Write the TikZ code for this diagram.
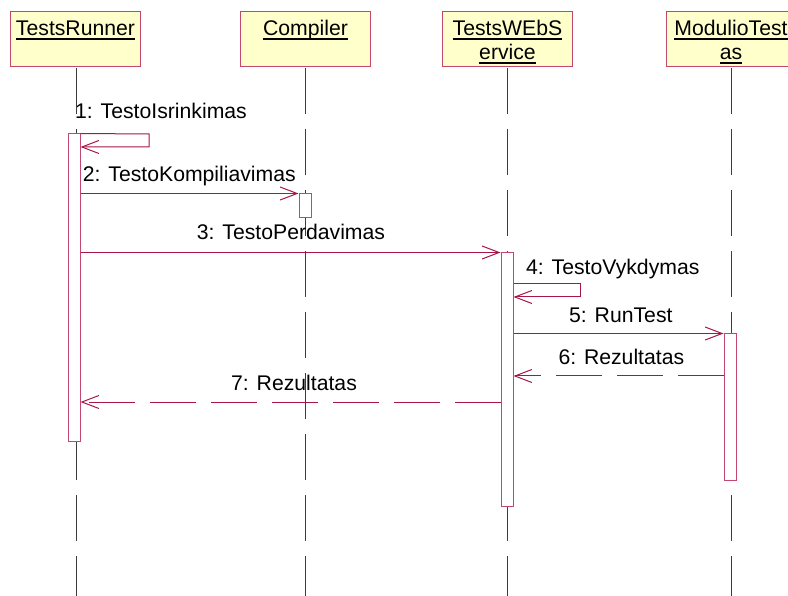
\documentclass[tikz,border=0pt]{standalone}
\usepackage{fontspec}
\setmainfont{Liberation Sans}
\usetikzlibrary{arrows.meta}
\definecolor{headfill}{RGB}{255,255,204}
\definecolor{headline}{RGB}{196,72,110}
\definecolor{msgline}{RGB}{168,22,72}
\definecolor{lifegray}{RGB}{60,60,60}
% underlined object name with a fixed rule below the baseline
\newcommand\ulword[1]{\setbox0\hbox{#1}\rlap{\rule[-3.6pt]{\wd0}{1.4pt}}\box0}
\begin{document}
\begin{tikzpicture}[x=1pt,y=-1pt,font=\fontsize{21.2}{24}\selectfont,
  head/.style={draw=headline,fill=headfill,line width=1pt,minimum width=130pt,minimum height=55pt,inner sep=0pt},
  headtxt/.style={anchor=base,inner sep=0pt},
  act/.style={draw=headline,fill=white,line width=1pt,minimum width=12pt,inner sep=0pt},
  life/.style={draw=lifegray,line width=1pt,dash pattern=on 46pt off 15pt},
  msg/.style={draw=msgline,line width=1pt,-{Straight Barb[length=17pt,width=13pt,line width=1pt]}},
  ret/.style={msg,dash pattern=on 46pt off 15pt},
  lbl/.style={anchor=base west,inner sep=0pt}]
\useasboundingbox (0,0) rectangle (788,596);

% object heads
\node[head] (tr) at (75.5,39.5) {};
\node[head] (co) at (305.5,39.5) {};
\node[head] (ws) at (507.5,39.5) {};
\node[head] (mt) at (731,39.5) {};
\node[headtxt] (trt) at (75.5,36) {\ulword{TestsRunner}};
\node[headtxt] (cot) at (305.5,36) {\ulword{Compiler}};
\node[headtxt] (wst1) at (507.5,36) {\ulword{TestsWEbS}};
\node[headtxt] (wst2) at (507.5,60) {\ulword{ervice}};
\node[headtxt] (mtt1) at (731,36) {\ulword{ModulioTest}};
\node[headtxt] (mtt2) at (731,60) {\ulword{as}};

% lifelines
\coordinate (trend) at (76,596);
\coordinate (coend) at (305.7,596);
\coordinate (wsend) at (507.7,596);
\coordinate (mtend) at (731,596);
\draw[life] (76,68) -- (trend);
\draw[life] (305.7,68) -- (coend);
\draw[life] (507.7,68) -- (wsend);
\draw[life] (731,68) -- (mtend);

% activation bars
\node[act,minimum height=307pt] (a1) at (74,287.5) {};
\node[act,minimum height=24pt] (a2) at (305,206) {};
\node[act,minimum height=253pt] (a3) at (507,379.5) {};
\node[act,minimum height=146pt] (a4) at (730,407) {};

% messages
\coordinate (s1a) at (149,134);
\coordinate (s1b) at (149,147);
\draw[msg] (a1.north east) -- (s1a) -- (s1b) -- (a1.east |- s1b);
\node[lbl] (l1) at (75,118.3) {1: TestoIsrinkimas};

\draw[msg] (a1.east |- a2.north) -- (a2.north west);
\node[lbl] (l2) at (82.7,181.7) {2: TestoKompiliavimas};

\draw[msg] (a1.east |- a3.north) -- (a3.north west);
\node[lbl] (l3) at (196.7,240) {3: TestoPerdavimas};

\coordinate (s4a) at (580,284);
\coordinate (s4b) at (580,297);
\draw[msg] (a3.east |- s4a) -- (s4a) -- (s4b) -- (a3.east |- s4b);
\node[lbl] (l4) at (526,275) {4: TestoVykdymas};

\draw[msg] (a3.east |- a4.north) -- (a4.north west);
\node[lbl] (l5) at (569,322.7) {5: RunTest};

\coordinate (r6) at (0,376);
\draw[ret] (a4.west |- r6) -- (a3.east |- r6);
\node[lbl] (l6) at (558.3,364.3) {6: Rezultatas};

\coordinate (r7) at (0,402);
\draw[ret] (a3.west |- r7) -- (a1.east |- r7);
\node[lbl] (l7) at (231,391) {7: Rezultatas};
\end{tikzpicture}
\end{document}
